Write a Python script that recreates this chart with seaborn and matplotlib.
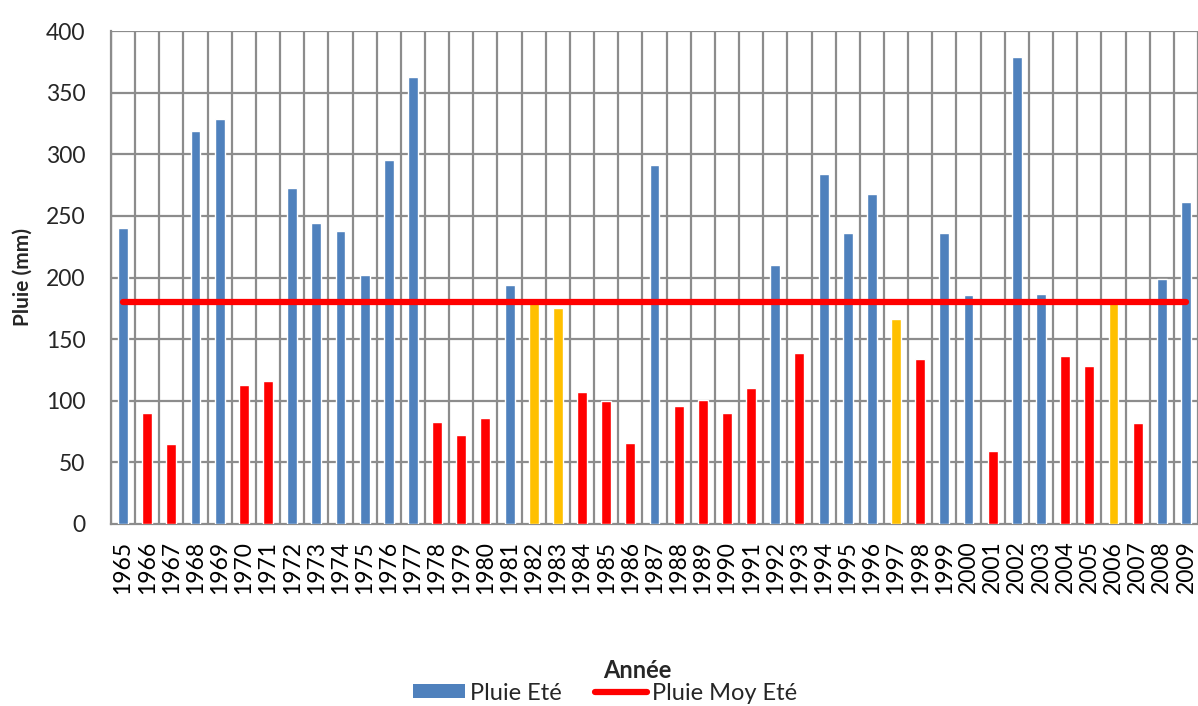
import numpy as np
import pandas as pd
import matplotlib
matplotlib.use("Agg")
import matplotlib.pyplot as plt
from matplotlib.patches import Patch
from matplotlib.lines import Line2D
import seaborn as sns

# Pluviométrie estivale par année (mm)
annees = list(range(1965, 2010))
pluie_ete = [240, 90, 65, 319, 329, 113, 116, 273, 244, 238,
             202, 295, 363, 83, 72, 86, 194, 179, 175, 107,
             100, 66, 291, 96, 101, 90, 110, 210, 139, 284,
             236, 268, 166, 134, 236, 186, 59, 379, 187, 136,
             128, 179, 82, 199, 261]
pluie_moy_ete = 180.5

couleurs = {"au-dessus": "#4F81BD", "proche": "#FFC000", "en-dessous": "#FF0000"}


def classe(v):
    if v >= pluie_moy_ete:
        return "au-dessus"
    if v >= 0.9 * pluie_moy_ete:
        return "proche"
    return "en-dessous"


df = pd.DataFrame({
    "Année": [str(a) for a in annees],
    "Pluie": pluie_ete,
})
df["Classe"] = df["Pluie"].apply(classe)

sns.set_style("white")
plt.rcParams["font.family"] = ["Lato", "DejaVu Sans"]

fig = plt.figure(figsize=(11.98, 7.06), dpi=100)
ax = fig.add_axes([111 / 1198, 182 / 706, 1087 / 1198, 493 / 706])

grid_col = "#8C8C8C"

sns.barplot(data=df, x="Année", y="Pluie", hue="Classe", palette=couleurs,
            dodge=False, width=0.41, legend=False, ax=ax, zorder=3,
            saturation=1)

n = len(annees)
ax.plot([0, n - 1], [pluie_moy_ete, pluie_moy_ete], color="#FF0000",
        lw=4.5, solid_capstyle="round", zorder=4)

ax.set_xlim(-0.5, n - 0.5)
ax.set_ylim(0, 400)
ax.set_yticks(np.arange(0, 401, 50))

# grille : lignes verticales entre les catégories
for b in np.arange(-0.5, n, 1.0):
    ax.axvline(b, color=grid_col, lw=1.6, zorder=1)
for yv in np.arange(50, 401, 50):
    ax.axhline(yv, color=grid_col, lw=1.6, zorder=1)

ax.set_xticks(np.arange(-0.5, n, 1.0), minor=True)
ax.tick_params(axis="x", which="major", length=0, labelrotation=90,
               labelsize=16.5, pad=12, colors="black")
ax.tick_params(axis="x", which="minor", length=5, color=grid_col, width=1.3)
ax.tick_params(axis="y", which="major", length=6, color=grid_col, width=1.3,
               labelsize=16.5, pad=12.5)

for s in ["top", "right"]:
    ax.spines[s].set_visible(False)
for s in ["left", "bottom"]:
    ax.spines[s].set_color(grid_col)
    ax.spines[s].set_linewidth(1.6)

ax.set_xlabel("")
ax.set_ylabel("Pluie (mm)", fontsize=15, fontweight="bold")
ax.yaxis.set_label_coords((33 - 111) / 1087, 0.5)

fig.text(637 / 1198, 1 - 670 / 706, "Année", ha="center", va="center",
         fontsize=17, fontweight="bold")

handles = [
    Patch(facecolor="#4F81BD", edgecolor="none", label="Pluie Eté"),
    Line2D([0], [0], color="#FF0000", lw=4.5, solid_capstyle="round",
           label="Pluie Moy Eté"),
]
fig.legend(handles=handles, loc="center", bbox_to_anchor=(605 / 1198, 1 - 693 / 706),
           ncol=2, frameon=False, fontsize=17, handlelength=2.2,
           handleheight=0.55, handletextpad=0.2, columnspacing=1.4,
           borderaxespad=0, borderpad=0)

fig.savefig("out.png", dpi=100)
